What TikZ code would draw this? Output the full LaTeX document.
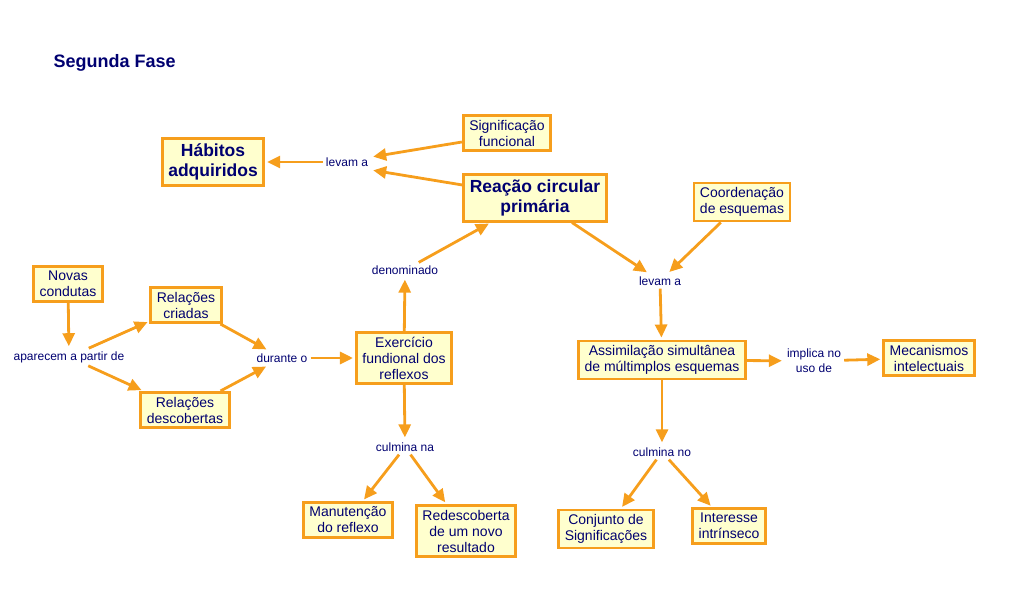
\documentclass[tikz,border=0pt]{standalone}
\usepackage{fontspec}
\setmainfont{Liberation Sans}
\usetikzlibrary{arrows.meta}
\definecolor{mapedge}{RGB}{246,158,28}
\definecolor{mapfill}{RGB}{255,255,206}
\definecolor{mapink}{RGB}{0,0,112}
\tikzset{
  concept/.style={draw=mapedge, fill=mapfill, line width=2.8pt, align=center,
    inner xsep=6pt, inner ysep=4.5pt, text=mapink,
    font=\fontsize{14}{16}\selectfont},
  keyconcept/.style={concept, inner ysep=5pt, font=\fontsize{17.5}{20}\bfseries\selectfont},
  linkword/.style={align=center, inner sep=3pt, text=mapink,
    font=\fontsize{12}{15}\selectfont},
  link/.style={draw=mapedge, line width=2.8pt,
    -{Triangle[length=13pt,width=12pt]}, shorten >=2pt}
}
\begin{document}
\begin{tikzpicture}[x=1pt,y=-1pt]
        \useasboundingbox (0,0) rectangle (1016,601);
        \node [anchor=west, text=mapink, font=\fontsize{18}{20}\bfseries\selectfont] (title) at (50,63) {Segunda Fase};
        % top row
        \node [keyconcept] (habitos) at (213,162) {Hábitos\\adquiridos};
        \node [linkword] (levA) at (347,162) {levam a};
        \node [concept] (signif) at (507,133) {Significação\\funcional};
        \node [keyconcept] (reacao) at (535,198) {Reação circular\\primária};
        \node [concept] (coord) at (742,202) {Coordenação\\de esquemas};
        \node [linkword] (levB) at (660,281) {levam a};
        % left branch
        \node [concept] (novas) at (68,284) {Novas\\condutas};
        \node [linkword] (aparecem) at (69,357) {aparecem a partir de};
        \node [concept] (criadas) at (186,305) {Relações\\criadas};
        \node [concept] (descob) at (185,410) {Relações\\descobertas};
        \node [linkword] (durante) at (282,358) {durante o};
        \node [linkword] (denom) at (405,270) {denominado};
        \node [concept] (exerc) at (404,358) {Exercício\\fundional dos\\reflexos};
        \node [linkword] (culmA) at (405,447) {culmina na};
        \node [concept] (manut) at (348,520) {Manutenção\\do reflexo};
        \node [concept] (redesc) at (466,531) {Redescoberta\\de um novo\\resultado};
        % right branch
        \node [concept] (assim) at (662,360) {Assimilação simultânea\\de múltimplos esquemas};
        \node [linkword] (implica) at (814,361) {implica no\\uso de};
        \node [concept] (mecan) at (929,358) {Mecanismos\\intelectuais};
        \node [linkword] (culmB) at (662,452) {culmina no};
        \node [concept] (conj) at (606,529) {Conjunto de\\Significações};
        \node [concept] (inter) at (729,526) {Interesse\\intrínseco};
        \draw [link] (levA) -- (habitos);
        \draw [link] ([yshift=-9pt]signif.west) -- ([yshift=5pt]levA.east);
        \draw [link] ([yshift=13pt]reacao.west) -- ([yshift=-8pt]levA.east);
        \draw [link] (novas) -- (aparecem);
        \draw [link] (aparecem) -- (criadas);
        \draw [link] (aparecem) -- (descob);
        \draw [link] (criadas) -- (durante);
        \draw [link] (descob) -- (durante);
        \draw [link] (durante) -- (exerc);
        \draw [link] (exerc) -- (denom);
        \draw [link] (denom) -- (reacao);
        \draw [link] (exerc) -- (culmA);
        \draw [link] (culmA) -- (manut);
        \draw [link] (culmA) -- (redesc);
        \draw [link] (reacao) -- (levB);
        \draw [link] (coord) -- (levB);
        \draw [link] (levB) -- (assim);
        \draw [link] (assim) -- (implica);
        \draw [link] (implica) -- (mecan);
        \draw [link] (assim) -- (culmB);
        \draw [link] (culmB) -- (conj);
        \draw [link] (culmB) -- (inter);
\end{tikzpicture}
\end{document}
